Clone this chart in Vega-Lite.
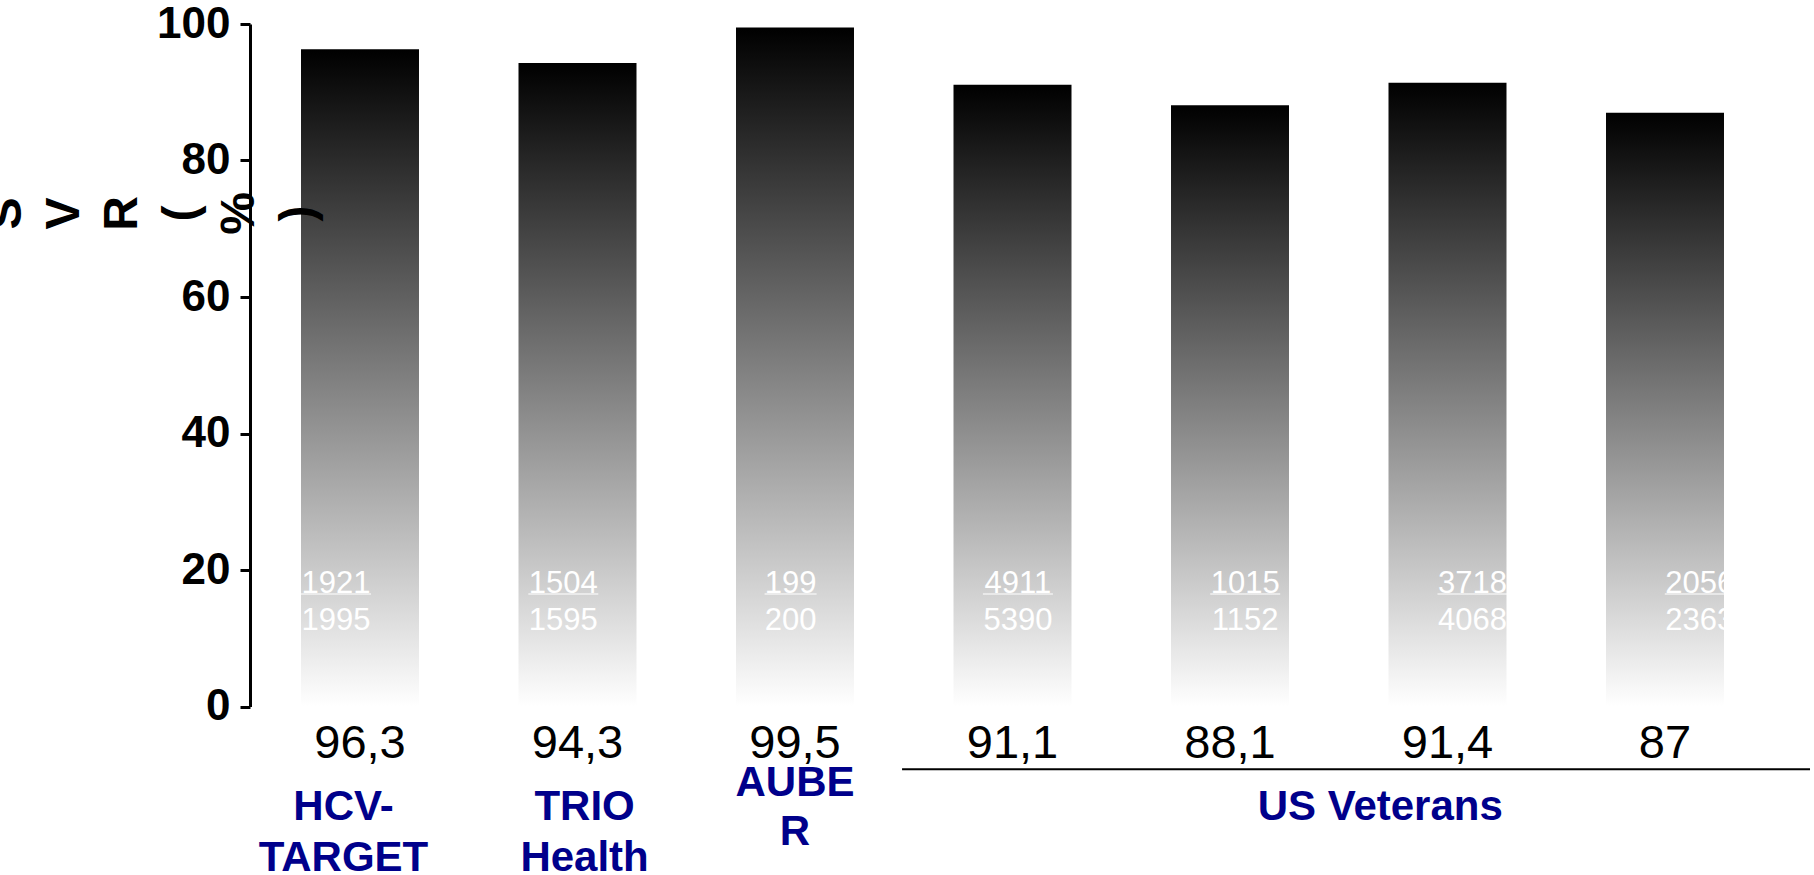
{
  "$schema": "https://vega.github.io/schema/vega-lite/v6.json",
  "width": 1525,
  "height": 682.5,
  "autosize": {"type": "none"},
  "padding": {"left": 250, "top": 24, "right": 39, "bottom": 168.5},
  "background": "white",
  "config": {
    "view": {"stroke": null},
    "font": "Liberation Sans",
    "locale": {
      "number": {"decimal": ",", "thousands": ".", "grouping": [3], "currency": ["", " €"]}
    },
    "axisY": {
      "grid": false,
      "domainColor": "#000000",
      "domainWidth": 3,
      "tickColor": "#000000",
      "tickWidth": 3,
      "tickSize": 10,
      "labelFont": "Liberation Sans",
      "labelFontSize": 44,
      "labelFontWeight": "bold",
      "labelColor": "#000000",
      "labelPadding": 10,
      "titleFont": "Liberation Sans",
      "titleFontSize": 48,
      "titleFontWeight": "bold",
      "titleColor": "#000000"
    }
  },
  "datasets": {
    "studies": [
      {"cohort": "HCV-TARGET", "group": "HCV-TARGET", "svr": 96.3, "cured": 1921, "treated": 1995},
      {"cohort": "TRIO Health", "group": "TRIO Health", "svr": 94.3, "cured": 1504, "treated": 1595},
      {"cohort": "AUBER", "group": "AUBER", "svr": 99.5, "cured": 199, "treated": 200},
      {"cohort": "US Veterans 1", "group": "US Veterans", "svr": 91.1, "cured": 4911, "treated": 5390},
      {"cohort": "US Veterans 2", "group": "US Veterans", "svr": 88.1, "cured": 1015, "treated": 1152},
      {"cohort": "US Veterans 3", "group": "US Veterans", "svr": 91.4, "cured": 3718, "treated": 4068},
      {"cohort": "US Veterans 4", "group": "US Veterans", "svr": 87, "cured": 2056, "treated": 2363}
    ],
    "groups": [
      {"group": "HCV-TARGET", "label": "HCV-\nTARGET", "anchor": "HCV-TARGET", "first": "HCV-TARGET", "last": "HCV-TARGET"},
      {"group": "TRIO Health", "label": "TRIO\nHealth", "anchor": "TRIO Health", "first": "TRIO Health", "last": "TRIO Health"},
      {"group": "AUBER", "label": "AUBE\nR", "anchor": "AUBER", "first": "AUBER", "last": "AUBER"},
      {"group": "US Veterans", "label": "US Veterans", "anchor": "US Veterans 3", "first": "US Veterans 1", "last": "US Veterans 4"}
    ]
  },
  "resolve": {"scale": {"x": "independent"}},
  "layer": [
    {
      "layer": [
        {
          "data": {"name": "studies"},
          "mark": {
            "type": "bar",
            "color": {
              "gradient": "linear",
              "x1": 0, "y1": 0, "x2": 0, "y2": 1,
              "stops": [
                {"offset": 0, "color": "#000000"},
                {"offset": 1, "color": "#ffffff"}
              ]
            }
          },
          "encoding": {
            "x": {
              "field": "cohort",
              "type": "nominal",
              "scale": {
                "domain": ["HCV-TARGET", "TRIO Health", "AUBER", "US Veterans 1", "US Veterans 2", "US Veterans 3", "US Veterans 4"],
                "paddingInner": 0.4575,
                "paddingOuter": 0.2345
              },
              "axis": null
            },
            "y": {
              "field": "svr",
              "type": "quantitative",
              "scale": {"domain": [0, 100]},
              "axis": {
                "values": [0, 20, 40, 60, 80, 100],
                "zindex": 1,
                "title": ["S", "V", "R", "(", "%", ")"],
                "titleAngle": 270,
                "titleAlign": "center",
                "titleBaseline": "middle",
                "titleLineHeight": 58.4,
                "titleX": -244,
                "titleY": 189
              }
            }
          }
        },
        {
          "data": {"name": "studies"},
          "mark": {"type": "text", "fontSize": 47, "color": "#000000", "align": "center", "baseline": "alphabetic", "dy": 51.5},
          "encoding": {
            "x": {"field": "cohort", "type": "nominal", "axis": null},
            "y": {"datum": 0},
            "text": {"field": "svr", "type": "quantitative", "format": "~g"}
          }
        },
        {
          "data": {"name": "groups"},
          "transform": [{"filter": "datum.first !== datum.last"}],
          "mark": {"type": "rule", "color": "#000000", "strokeWidth": 2, "yOffset": 62.8},
          "encoding": {
            "x": {"field": "first", "type": "nominal", "bandPosition": -0.436, "axis": null},
            "x2": {"field": "last", "bandPosition": 1.729},
            "y": {"datum": 0}
          }
        },
        {
          "data": {"name": "groups"},
          "transform": [{"filter": {"field": "group", "equal": "HCV-TARGET"}}],
          "mark": {"type": "text", "fontSize": 42, "fontWeight": "bold", "color": "#00008b", "align": "center", "baseline": "alphabetic", "lineBreak": "\n", "lineHeight": 51, "dy": 113.5},
          "encoding": {
            "x": {"field": "anchor", "type": "nominal", "bandPosition": 0.36, "axis": null},
            "y": {"datum": 0},
            "text": {"field": "label", "type": "nominal"}
          }
        },
        {
          "data": {"name": "groups"},
          "transform": [{"filter": {"field": "group", "equal": "TRIO Health"}}],
          "mark": {"type": "text", "fontSize": 42, "fontWeight": "bold", "color": "#00008b", "align": "center", "baseline": "alphabetic", "lineBreak": "\n", "lineHeight": 51, "dy": 113.5},
          "encoding": {
            "x": {"field": "anchor", "type": "nominal", "bandPosition": 0.56, "axis": null},
            "y": {"datum": 0},
            "text": {"field": "label", "type": "nominal"}
          }
        },
        {
          "data": {"name": "groups"},
          "transform": [{"filter": {"field": "group", "equal": "AUBER"}}],
          "mark": {"type": "text", "fontSize": 42, "fontWeight": "bold", "color": "#00008b", "align": "center", "baseline": "alphabetic", "lineBreak": "\n", "lineHeight": 49, "dy": 89.5},
          "encoding": {
            "x": {"field": "anchor", "type": "nominal", "bandPosition": 0.5, "axis": null},
            "y": {"datum": 0},
            "text": {"field": "label", "type": "nominal"}
          }
        },
        {
          "data": {"name": "groups"},
          "transform": [{"filter": {"field": "group", "equal": "US Veterans"}}],
          "mark": {"type": "text", "fontSize": 42, "fontWeight": "bold", "color": "#00008b", "align": "center", "baseline": "alphabetic", "dy": 113.5},
          "encoding": {
            "x": {"field": "anchor", "type": "nominal", "bandPosition": -0.07, "axis": null},
            "y": {"datum": 0},
            "text": {"field": "label", "type": "nominal"}
          }
        }
      ]
    },
    {
      "data": {"name": "studies"},
      "encoding": {
        "x": {
          "field": "cohort",
          "type": "nominal",
          "scale": {
            "type": "point",
            "domain": ["HCV-TARGET", "TRIO Health", "AUBER", "US Veterans 1", "US Veterans 2", "US Veterans 3", "US Veterans 4"],
            "padding": 0.3546,
            "align": 0.5335
          },
          "axis": null
        },
        "y": {"datum": 0}
      },
      "layer": [
        {
          "mark": {"type": "text", "fontSize": 31, "color": "#ffffff", "align": "center", "baseline": "alphabetic", "dy": -113.8},
          "encoding": {"text": {"field": "cured", "type": "quantitative", "format": "d"}}
        },
        {
          "mark": {"type": "text", "fontSize": 31, "color": "#ffffff", "align": "center", "baseline": "alphabetic", "dy": -77},
          "encoding": {"text": {"field": "treated", "type": "quantitative", "format": "d"}}
        },
        {
          "mark": {"type": "tick", "orient": "horizontal", "color": "#ffffff", "thickness": 1.4, "yOffset": -112.5},
          "encoding": {
            "size": {
              "field": "cured",
              "type": "quantitative",
              "scale": {"type": "threshold", "domain": [1000], "range": [52, 70]},
              "legend": null
            }
          }
        }
      ]
    }
  ]
}
